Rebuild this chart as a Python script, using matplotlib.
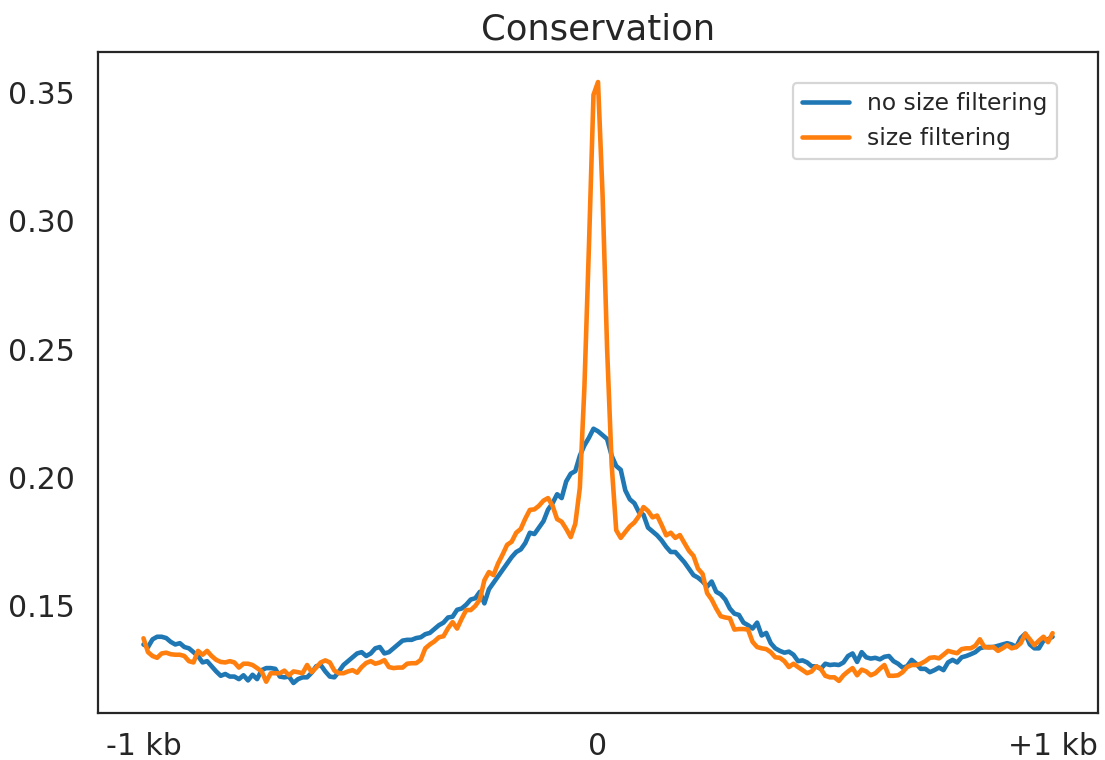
import matplotlib
matplotlib.use("Agg")
import matplotlib.pyplot as plt
import seaborn as sns
import numpy as np

# conservation profile, 201 bins from -1 kb to +1 kb
no_size_filtering = [
    0.135, 0.134, 0.137, 0.138, 0.138, 0.1375, 0.136, 0.135, 0.1355, 0.134,
    0.1335, 0.132, 0.1305, 0.128, 0.1285, 0.1265, 0.1245, 0.1228, 0.1235, 0.1225,
    0.1225, 0.1215, 0.123, 0.121, 0.1232, 0.1215, 0.125, 0.1258, 0.1258, 0.1255,
    0.1225, 0.1222, 0.1225, 0.120, 0.1215, 0.1222, 0.1222, 0.124, 0.1265, 0.127,
    0.1245, 0.1225, 0.1222, 0.1245, 0.127, 0.1285, 0.130, 0.1315, 0.132, 0.1305,
    0.1315, 0.1335, 0.134, 0.1315, 0.132, 0.1335, 0.135, 0.1365, 0.1368, 0.1368,
    0.1375, 0.1378, 0.139, 0.1395, 0.141, 0.1425, 0.1435, 0.1455, 0.1458, 0.1485,
    0.149, 0.1505, 0.1525, 0.153, 0.1555, 0.151, 0.1565, 0.159, 0.1615, 0.164,
    0.1665, 0.169, 0.171, 0.172, 0.1745, 0.1785, 0.178, 0.1805, 0.183, 0.1875,
    0.190, 0.1935, 0.192, 0.1985, 0.2015, 0.2025, 0.2085, 0.2125, 0.2155, 0.219,
    0.218, 0.2165, 0.215, 0.2085, 0.2045, 0.203, 0.195, 0.1915, 0.190, 0.1865,
    0.1855, 0.1805, 0.179, 0.1775, 0.1755, 0.173, 0.171, 0.171, 0.169, 0.167,
    0.1645, 0.162, 0.161, 0.1595, 0.1575, 0.1595, 0.1555, 0.1545, 0.1525, 0.149,
    0.147, 0.1465, 0.1435, 0.1425, 0.1412, 0.1435, 0.1385, 0.1395, 0.1355, 0.1335,
    0.1325, 0.1318, 0.1322, 0.131, 0.1285, 0.1288, 0.128, 0.1265, 0.1265, 0.1255,
    0.1275, 0.127, 0.1272, 0.127, 0.128, 0.1305, 0.1315, 0.1282, 0.132, 0.130,
    0.1295, 0.1298, 0.1292, 0.1302, 0.1305, 0.1285, 0.1275, 0.126, 0.1265, 0.129,
    0.1275, 0.1255, 0.1255, 0.1242, 0.125, 0.126, 0.125, 0.128, 0.129, 0.128,
    0.130, 0.1305, 0.1312, 0.132, 0.1335, 0.134, 0.134, 0.134, 0.1345, 0.135,
    0.1355, 0.135, 0.134, 0.1375, 0.1392, 0.135, 0.1335, 0.1335, 0.1365, 0.137,
    0.138,
]
size_filtering = [
    0.1374, 0.132, 0.1305, 0.1298, 0.1315, 0.1318, 0.1312, 0.131, 0.131, 0.1305,
    0.1285, 0.128, 0.1325, 0.131, 0.1325, 0.1305, 0.129, 0.1282, 0.128, 0.1285,
    0.128, 0.126, 0.1275, 0.1275, 0.127, 0.1258, 0.1245, 0.1205, 0.1238, 0.1238,
    0.1238, 0.1248, 0.123, 0.1245, 0.1242, 0.1238, 0.127, 0.1242, 0.126, 0.128,
    0.1288, 0.128, 0.1248, 0.1238, 0.1238, 0.1245, 0.125, 0.124, 0.1262, 0.1278,
    0.1285, 0.1275, 0.128, 0.1289, 0.1262, 0.1258, 0.126, 0.126, 0.1275, 0.1277,
    0.1277, 0.129, 0.1335, 0.135, 0.1362, 0.1378, 0.1382, 0.1413, 0.1437, 0.1412,
    0.145, 0.1484, 0.1484, 0.150, 0.1525, 0.160, 0.1632, 0.162, 0.1665, 0.170,
    0.1738, 0.175, 0.1785, 0.180, 0.184, 0.1874, 0.1876, 0.189, 0.191, 0.192,
    0.189, 0.1838, 0.1828, 0.180, 0.1768, 0.182, 0.196, 0.235, 0.290, 0.349,
    0.354, 0.310, 0.250, 0.205, 0.1795, 0.1765, 0.1788, 0.181, 0.1825, 0.185,
    0.1885, 0.187, 0.1845, 0.1852, 0.1815, 0.1775, 0.1785, 0.1765, 0.1776, 0.1745,
    0.1715, 0.1695, 0.1645, 0.1625, 0.155, 0.1525, 0.149, 0.146, 0.1455, 0.1452,
    0.1408, 0.141, 0.141, 0.1408, 0.136, 0.134, 0.1335, 0.1332, 0.132, 0.130,
    0.1298, 0.1285, 0.1262, 0.1275, 0.1262, 0.125, 0.1238, 0.1245, 0.1265, 0.1255,
    0.1228, 0.1222, 0.1222, 0.1208, 0.123, 0.1245, 0.1258, 0.123, 0.1252, 0.1245,
    0.123, 0.1238, 0.1255, 0.127, 0.1228, 0.1228, 0.123, 0.1242, 0.1262, 0.127,
    0.127, 0.1275, 0.1285, 0.1298, 0.130, 0.1296, 0.131, 0.1325, 0.132, 0.1316,
    0.1332, 0.1335, 0.1335, 0.1345, 0.137, 0.134, 0.1338, 0.134, 0.1325, 0.1335,
    0.1347, 0.1335, 0.134, 0.1355, 0.1392, 0.137, 0.1347, 0.1365, 0.138, 0.1359,
    0.1394,
]
tick_labels = ["-1 kb", "0", "+1 kb"]

sns.set_style("white")
plt.rcParams["font.family"] = ["DejaVu Sans"]

fig = plt.figure(figsize=(11.05, 7.6), dpi=100)
ax = fig.add_axes([0.0887, 0.0618, 0.905, 0.8698])

bins = np.arange(len(no_size_filtering))
ax.plot(bins, no_size_filtering, color="#1f77b4", linewidth=3.3, label="no size filtering")
ax.plot(bins, size_filtering, color="#ff7f0e", linewidth=3.3, label="size filtering")

ax.set_xticks([0, len(bins) // 2, len(bins) - 1])
ax.set_xticklabels(tick_labels)
ax.set_yticks([0.15, 0.20, 0.25, 0.30, 0.35])
ax.tick_params(axis="y", labelsize=21.5, pad=13)
ax.tick_params(axis="x", labelsize=21.5, pad=10)
ax.set_title("Conservation", fontsize=25.5, pad=9)

for s in ax.spines.values():
    s.set_color("#262626")
    s.set_linewidth(1.6)

leg = ax.legend(loc="upper right", bbox_to_anchor=(0.959, 0.953), borderaxespad=0,
                fontsize=16.8, frameon=True)
leg.get_frame().set_linewidth(1.6)

fig.savefig("out.png")
